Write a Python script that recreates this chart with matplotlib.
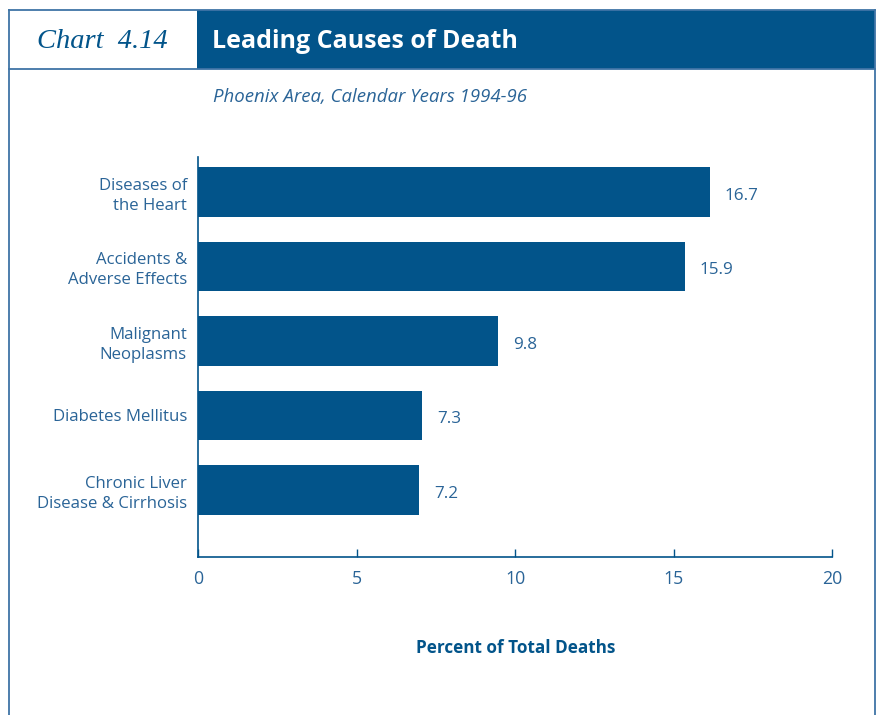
import matplotlib
matplotlib.use("Agg")
import matplotlib.pyplot as plt
from matplotlib.patches import Rectangle
from matplotlib.lines import Line2D

# data
causes = ["Diseases of\nthe Heart", "Accidents &\nAdverse Effects", "Malignant\nNeoplasms",
          "Diabetes Mellitus", "Chronic Liver\nDisease & Cirrhosis"]
values = [16.7, 15.9, 9.8, 7.3, 7.2]               # printed labels
bar_len = [16.15, 15.36, 9.46, 7.07, 6.97]          # drawn bar lengths as in picture
xticks = [0, 5, 10, 15, 20]

BAR = "#02548a"
TXT = "#2a6497"
FRAME = "#3f74a6"
W, H = 877, 715

plt.rcParams["font.family"] = ["Open Sans", "DejaVu Sans"]
fig = plt.figure(figsize=(W / 100, H / 100), dpi=100)


def fx(x): return x / W
def fy(y): return 1 - y / H


# frame + header
fig.add_artist(Rectangle((fx(197), fy(69)), fx(875) - fx(197), fy(10) - fy(69),
                         transform=fig.transFigure, fc=BAR, ec="none"))
for (x1, y1), (x2, y2) in [((8.5, 10), (875, 10)), ((8.5, 10), (8.5, 715)),
                           ((875, 10), (875, 715)), ((8.5, 69), (875, 69))]:
    fig.add_artist(Line2D([fx(x1), fx(x2)], [fy(y1), fy(y2)], transform=fig.transFigure,
                          color=FRAME, lw=1.3))
fig.text(fx(37), fy(42), "Chart  4.14", fontsize=20.5, style="italic", family="Liberation Serif",
         color=BAR, va="center", ha="left")
fig.text(fx(212), fy(42), "Leading Causes of Death", fontsize=18, weight="bold", color="white",
         va="center", ha="left")
fig.text(fx(213), fy(97), "Phoenix Area, Calendar Years 1994-96", fontsize=13.4, style="italic",
         color=TXT, va="center", ha="left")

# chart
ax = fig.add_axes([fx(198), fy(557), fx(832) - fx(198), fy(157) - fy(557)])
ypos = list(range(len(causes)))
ax.barh(ypos, bar_len, height=0.66, color=BAR)
for y, bl, v in zip(ypos, bar_len, values):
    ax.text(bl + 0.47, y + 0.05, f"{v:.1f}", va="center", ha="left", fontsize=12.3, color=TXT)

ax.set_xlim(0, 20)
ax.set_ylim(4.9, -0.47)
ax.set_yticks(ypos)
ax.set_yticklabels(causes, fontsize=12.1, color=TXT, ha="right", linespacing=1.33)
ax.set_xticks(xticks)
ax.set_xticklabels([str(t) for t in xticks], fontsize=12.8, color=TXT)
ax.tick_params(axis="y", length=0, pad=8)
ax.tick_params(axis="x", direction="in", length=6, width=1, color=BAR, pad=9)
for s in ("top", "right"):
    ax.spines[s].set_visible(False)
for s in ("left", "bottom"):
    ax.spines[s].set_color(BAR)
    ax.spines[s].set_linewidth(1.2)

fig.text(fx(516), fy(648), "Percent of Total Deaths", fontsize=12.3, weight="bold",
         color=BAR, ha="center", va="center")

fig.savefig("out.png", dpi=100)
